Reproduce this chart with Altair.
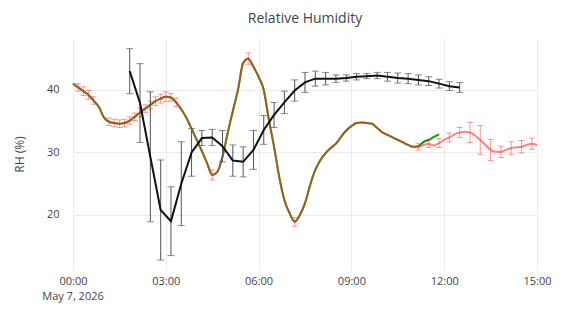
import altair as alt
import pandas as pd
import numpy as np

# ---- data ----
rh_green = [41.0, 40.4, 39.8, 39.2, 38.3, 37.3, 35.6, 34.9, 34.7, 34.6,
            34.7, 35.1, 35.7, 36.4, 37.0, 37.6, 38.2, 38.6, 38.9, 38.8,
            38.0, 36.9, 35.5, 33.8, 32.0, 30.2, 28.3, 26.4, 26.9, 29.3,
            33.1, 36.6, 40.0, 44.3, 45.0, 43.7, 42.1, 40.0, 35.2, 30.9,
            26.1, 22.4, 20.3, 18.9, 20.0, 21.9, 24.8, 27.2, 28.8, 29.9,
            30.7, 31.4, 32.5, 33.5, 34.2, 34.7, 34.8, 34.7, 34.6, 33.9,
            33.2, 32.8, 32.4, 32.0, 31.6, 31.2, 30.9, 31.0, 31.7, 32.0,
            32.5, 32.9]

rh_pink = rh_green[:67] + [30.9, 31.2, 31.4, 31.1, 31.5,
                           32.0, 32.4, 32.9, 33.2, 33.3, 33.2, 32.7, 32.0, 31.2, 30.4,
                           30.1, 30.1, 30.4, 30.7, 30.8, 30.9, 31.2, 31.4, 31.2]

pink_err = ([None, 0.6, 0.7, 0.7, 0.6, None, None, 0.6, 0.6, 0.6,
             0.6, 0.6, 0.6, 0.7, 0.6, 0.6, 0.7, 0.7, 0.8, 0.6,
             0.7, None, None, None, None, None, None, 0.8, None, None,
             None, None, None, None, 0.9, None, None, None, None, None,
             None, None, None, 0.7] + [None] * 23 +
            [0.5, None, 0.6, None, 0.7, None, 0.7, None, 0.8, None,
             1.6, None, 2.3, None, 1.7, None, 0.9, None, 1.0, None,
             1.0, None, 0.9, None])

black_rh = [43.0, 37.9, 29.3, 20.8, 19.0, 25.0, 30.0, 32.3, 32.4, 31.0,
            28.7, 28.5, 30.4, 33.6, 36.0, 38.0, 39.9, 41.2, 41.8, 41.8,
            41.8, 41.9, 42.1, 42.2, 42.3, 42.1, 41.9, 41.8, 41.6, 41.4,
            41.0, 40.6, 40.4]
black_err = [3.6, 6.3, 10.4, 8.0, 5.5, 6.7, 3.8, 1.2, 1.3, 2.5,
             2.5, 2.4, 3.1, 2.3, 2.0, 1.8, 1.7, 1.6, 1.2, 1.0,
             0.6, 0.5, 0.5, 0.4, 0.5, 0.7, 0.8, 0.8, 0.8, 0.7,
             0.7, 0.7, 0.8]

date_label = ["May 7, 2026"]

# ---- tables ----
t10 = pd.date_range("2026-05-07 00:00", periods=len(rh_pink), freq="10min")
t20 = pd.date_range("2026-05-07 01:50", periods=len(black_rh), freq="20min")
fmt = "%Y-%m-%dT%H:%M:%S"

green_df = pd.DataFrame({"t": list(t10[:len(rh_green)].strftime(fmt)), "rh": rh_green})
pink_df = pd.DataFrame({"t": list(t10.strftime(fmt)), "rh": rh_pink})
pe = pd.DataFrame({"t": list(t10.strftime(fmt)), "rh": rh_pink,
                   "err": [np.nan if e is None else e for e in pink_err]}).dropna()
pink_err_df = pd.DataFrame({"t": pe["t"].tolist(),
                            "lo": (pe["rh"] - pe["err"]).round(2).tolist(),
                            "hi": (pe["rh"] + pe["err"]).round(2).tolist()})

black_df = pd.DataFrame({"t": list(t20.strftime(fmt)), "rh": black_rh, "err": black_err})
black_df["lo"] = (black_df["rh"] - black_df["err"]).round(2)
black_df["hi"] = (black_df["rh"] + black_df["err"]).round(2)

date_df = pd.DataFrame({"t": [t10[0].strftime(fmt)], "label": date_label})

FONT = "Open Sans"
xscale = alt.Scale(domain=[alt.DateTime(year=2026, month=5, date=7, hours=0),
                           alt.DateTime(year=2026, month=5, date=7, hours=15)])
yscale = alt.Scale(domain=[11.2, 48.3], nice=False, zero=False)

xaxis = alt.Axis(title=None, grid=True, gridColor="#ececec", domain=False, ticks=False,
                 format="%H:%M", tickCount=5,
                 labelFont=FONT, labelFontSize=11, labelColor="#444", labelPadding=5,
                 labelFlush=False)
yaxis = alt.Axis(title="RH (%)", values=[20, 30, 40], grid=True, gridColor="#ececec",
                 domain=False, ticks=False, labelFont=FONT, labelFontSize=11,
                 labelColor="#444", labelPadding=14, titleFont=FONT, titleFontSize=12,
                 titleColor="#444", titleFontWeight="normal", titlePadding=20)

X = alt.X("t:T", scale=xscale, axis=xaxis)
Y = alt.Y("rh:Q", scale=yscale, axis=yaxis)
Xn = alt.X("t:T", scale=xscale)

green = alt.Chart(green_df).mark_line(color="#00a000", strokeWidth=2,
                                      interpolate="monotone").encode(x=X, y=Y)

pink_line = alt.Chart(pink_df).mark_line(color="#ff3030", opacity=0.6, strokeWidth=2,
                                         interpolate="monotone").encode(
    x=Xn, y=alt.Y("rh:Q", scale=yscale))
pink_bar = alt.Chart(pink_err_df).mark_rule(color="#ff0000", opacity=0.4, strokeWidth=1).encode(
    x=Xn, y=alt.Y("lo:Q", scale=yscale), y2="hi:Q")
pink_cap_lo = alt.Chart(pink_err_df).mark_tick(color="#ff0000", opacity=0.4, thickness=1,
                                               size=6, orient="horizontal").encode(
    x=Xn, y=alt.Y("lo:Q", scale=yscale))
pink_cap_hi = alt.Chart(pink_err_df).mark_tick(color="#ff0000", opacity=0.4, thickness=1,
                                               size=6, orient="horizontal").encode(
    x=Xn, y=alt.Y("hi:Q", scale=yscale))

black_bar = alt.Chart(black_df).mark_rule(color="#555", strokeWidth=1).encode(
    x=Xn, y=alt.Y("lo:Q", scale=yscale), y2="hi:Q")
black_cap_lo = alt.Chart(black_df).mark_tick(color="#555", thickness=1, size=7,
                                             orient="horizontal").encode(
    x=Xn, y=alt.Y("lo:Q", scale=yscale))
black_cap_hi = alt.Chart(black_df).mark_tick(color="#555", thickness=1, size=7,
                                             orient="horizontal").encode(
    x=Xn, y=alt.Y("hi:Q", scale=yscale))
black_line = alt.Chart(black_df).mark_line(color="#111", strokeWidth=2).encode(
    x=Xn, y=alt.Y("rh:Q", scale=yscale))

date_text = alt.Chart(date_df).mark_text(font=FONT, fontSize=11, color="#444",
                                         align="center", baseline="top").encode(
    x=Xn, y=alt.value(253), text="label:N")

chart = alt.layer(
    green, pink_bar, pink_cap_lo, pink_cap_hi, pink_line,
    black_bar, black_cap_lo, black_cap_hi, black_line, date_text
).properties(
    width=464, height=232,
    title=alt.TitleParams("Relative Humidity", font=FONT, fontSize=14, color="#444",
                          fontWeight="normal", anchor="middle", offset=12),
    autosize=alt.AutoSizeParams(type="none"),
    padding={"left": 65, "top": 30, "right": 16, "bottom": 38},
).configure(background="white").configure_view(stroke=None)

chart.save("out.html", embed_options={"renderer": "svg", "actions": False})
